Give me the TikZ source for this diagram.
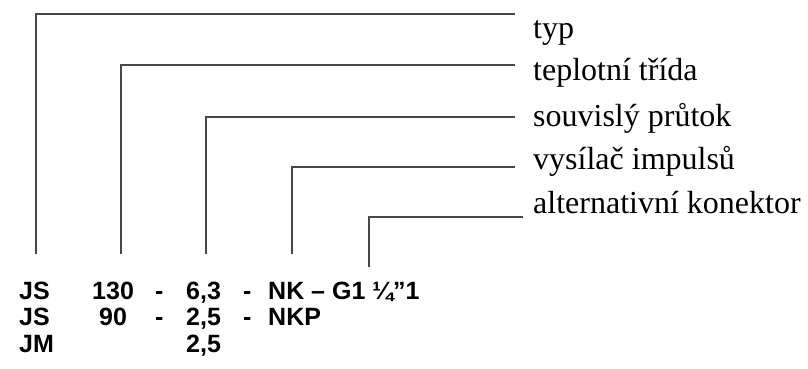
\documentclass[tikz,border=0pt]{standalone}
\usepackage{fontspec}
\setmainfont{Liberation Serif}
\newfontfamily\codefont{Liberation Sans}
\begin{document}
\begin{tikzpicture}[x=1pt,y=-1pt,
  lead/.style={draw=black!72, line width=1.6pt},
  lbl/.style={anchor=base west, inner sep=0pt, font=\fontsize{32}{32}\selectfont},
  code/.style={anchor=base west, inner sep=0pt, font=\codefont\bfseries\fontsize{25}{25}\selectfont}]
\useasboundingbox (0,0) rectangle (808,369);
% labels
\node[lbl] (l1) at (533,38) {typ};
\node[lbl] (l2) at (533,81) {teplotní třída};
\node[lbl] (l3) at (533,126) {souvislý průtok};
\node[lbl] (l4) at (533,169) {vysílač impulsů};
\node[lbl] (l5) at (533,213) {alternativní konektor};
% code rows
\node[code] (r1a) at (19,299) {JS};
\node[code] (r1b) at (92,299) {130};
\node[code] (r1c) at (155,299) {-};
\node[code] (r1d) at (186,299) {6,3};
\node[code] (r1e) at (243,299) {-};
\node[code] (r1f) at (268,299) {NK – G1 ¼”1};
\node[code] (r2a) at (19,325) {JS};
\node[code] (r2b) at (99,325) {90};
\node[code] (r2c) at (155,325) {-};
\node[code] (r2d) at (186,325) {2,5};
\node[code] (r2e) at (243,325) {-};
\node[code] (r2f) at (268,325) {NKP};
\node[code] (r3a) at (19,352) {JM};
\node[code] (r3d) at (186,352) {2,5};
% leader ends
\coordinate (e1) at (515,14);
\coordinate (e2) at (515,65);
\coordinate (e3) at (515,117);
\coordinate (e4) at (515,167);
\coordinate (e5) at (523,217);
\coordinate (b1) at (36,254);
\coordinate (b2) at (121,254);
\coordinate (b3) at (206,254);
\coordinate (b4) at (292,254);
\coordinate (b5) at (369,267);
\draw[lead] (e1) -| (b1);
\draw[lead] (e2) -| (b2);
\draw[lead] (e3) -| (b3);
\draw[lead] (e4) -| (b4);
\draw[lead] (e5) -| (b5);
\end{tikzpicture}
\end{document}
